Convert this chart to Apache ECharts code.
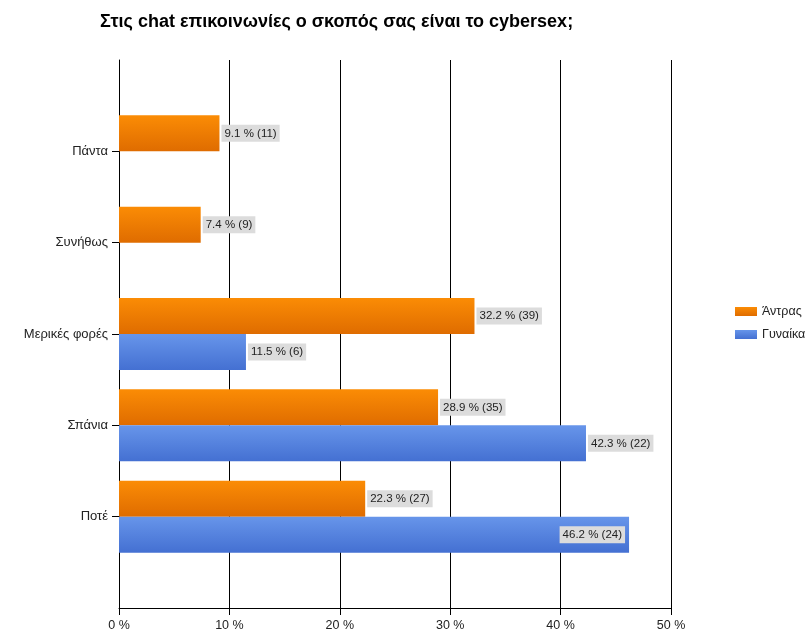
<!DOCTYPE html>
<html><head><meta charset="utf-8">
<script src="https://cdn.jsdelivr.net/npm/echarts@6/dist/echarts.min.js"></script>
<style>html,body{margin:0;padding:0;background:#fff}#c{width:809px;height:632px}</style>
</head><body><div id="c"></div>
<script>
var categories = ['', 'Ποτέ', 'Σπάνια', 'Μερικές φορές', 'Συνήθως', 'Πάντα', ''];
var menPct = [null, 22.3, 28.9, 32.2, 7.4, 9.1, null];
var menCount = [null, 27, 35, 39, 9, 11, null];
var womenPct = [null, 46.2, 42.3, 11.5, null, null, null];
var womenCount = [null, 24, 22, 6, null, null, null];
var xTicks = [0, 10, 20, 30, 40, 50];
var seriesNames = ['Άντρας', 'Γυναίκα'];

function grad(a, b) {
  return new echarts.graphic.LinearGradient(0, 0, 0, 1, [{offset: 0, color: a}, {offset: 1, color: b}]);
}
var labelBase = {
  show: true, position: 'right', distance: 2,
  backgroundColor: '#dcdcdc', color: '#222', fontSize: 11.5,
  fontFamily: 'Liberation Sans', padding: [3, 3, 2, 3],
  formatter: function (p) { return p.value + ' % (' + p.data.count + ')'; }
};
function build(pcts, counts) {
  return pcts.map(function (v, i) {
    if (v == null) return null;
    return {value: v, count: counts[i]};
  });
}
var womenData = build(womenPct, womenCount);
womenData[1].label = {position: 'insideRight', distance: 4};

var chart = echarts.init(document.getElementById('c'));
chart.setOption({
  animation: false,
  title: {
    text: 'Στις chat επικοινωνίες ο σκοπός σας είναι το cybersex;',
    left: 95, top: 8,
    textStyle: {fontFamily: 'Liberation Sans', fontWeight: 'bold', fontSize: 18, color: '#000'}
  },
  legend: {
    orient: 'vertical', left: 730, top: 300, itemWidth: 22, itemHeight: 9, itemGap: 10,
    icon: 'rect', data: seriesNames,
    textStyle: {fontFamily: 'Liberation Sans', fontSize: 12.5, color: '#222'}
  },
  grid: {left: 119, right: 138, top: 60, bottom: 24, containLabel: false},
  xAxis: {
    type: 'value', min: xTicks[0], max: xTicks[xTicks.length - 1], interval: 10,
    axisLine: {show: true, lineStyle: {color: '#000', width: 1}},
    axisTick: {show: true, length: 7, lineStyle: {color: '#000'}},
    splitLine: {show: true, lineStyle: {color: '#000', width: 1}},
    axisLabel: {formatter: '{value} %', color: '#222', fontSize: 12.5, fontFamily: 'Liberation Sans', margin: 11}
  },
  yAxis: {
    type: 'category', data: categories, boundaryGap: false,
    axisLine: {show: true, lineStyle: {color: '#000'}},
    axisTick: {show: true, length: 7, alignWithLabel: true, lineStyle: {color: '#000'},
      interval: function (i) { return categories[i] !== ''; }},
    axisLabel: {color: '#222', fontSize: 13, fontFamily: 'Liberation Sans', margin: 11},
    splitLine: {show: false}
  },
  series: [
    {
      name: seriesNames[0], type: 'bar', barWidth: 36, barGap: '0%',
      data: build(menPct, menCount),
      itemStyle: {color: grad('#fb8c05', '#df6c00')},
      label: labelBase
    },
    {
      name: seriesNames[1], type: 'bar', barWidth: 36, barGap: '0%',
      data: womenData,
      itemStyle: {color: grad('#6795ea', '#4470d2')},
      label: labelBase
    }
  ]
});
</script></body></html>
